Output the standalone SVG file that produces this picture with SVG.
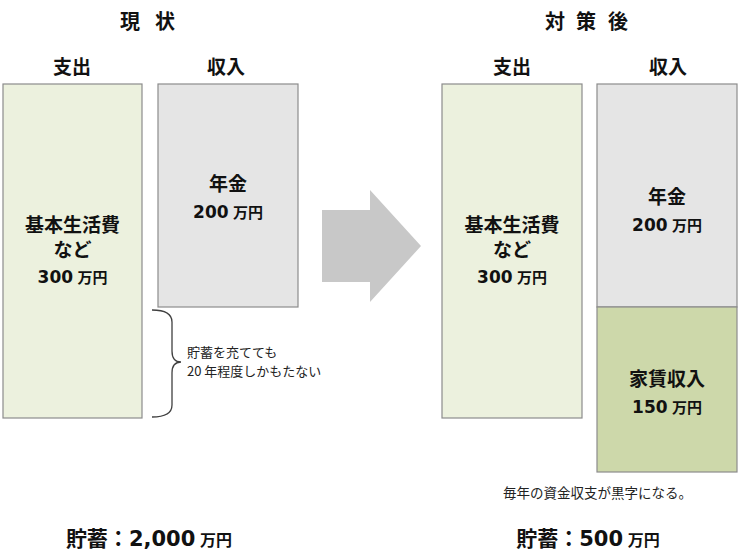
<svg xmlns="http://www.w3.org/2000/svg" width="740" height="560" viewBox="0 0 740 560">
<style>
text{font-family:"Noto Sans CJK JP","DejaVu Sans",sans-serif;fill:#111;text-anchor:middle}
.d{font-family:"DejaVu Sans","Noto Sans CJK JP",sans-serif}
.t{font-size:20px;font-weight:bold}
.h{font-size:19px;font-weight:bold}
.bx{font-size:19px;font-weight:bold}
.bd{font-size:17px}
.u{font-size:15px}
.n{font-size:13px;text-anchor:start;fill:#222}
.exp{fill:#ECF1DE;stroke:#8C8C8C;stroke-width:1.2}
.inc{fill:#E5E5E5;stroke:#8C8C8C;stroke-width:1.2}
.rent{fill:#CDD8AA;stroke:#8C8C8C;stroke-width:1.2}
.sv{font-size:21px;font-weight:bold}
.svd{font-size:21px}
.svu{font-size:16px}
</style>
<rect width="740" height="560" fill="#fff"/>
<g id="titles">
<text class="t" x="130 165" y="29">現状</text>
<text class="t" x="555 586 618" y="29">対策後</text>
<text class="h" x="72" y="74">支出</text>
<text class="h" x="226" y="74">収入</text>
<text class="h" x="512" y="74">支出</text>
<text class="h" x="668" y="74">収入</text>
</g>
<g id="before-expense">
<rect class="exp" x="3" y="84" width="139" height="334"/>
<text class="bx" y="232"><tspan x="72.5">基本生活費</tspan><tspan x="72.5" dy="25">など</tspan><tspan x="72.5" dy="26"><tspan class="d bd">300</tspan> <tspan class="u">万円</tspan></tspan></text>
</g>
<g id="before-income">
<rect class="inc" x="158" y="84" width="140" height="223"/>
<text class="bx" y="191"><tspan x="228">年金</tspan><tspan x="228" dy="27"><tspan class="d bd">200</tspan> <tspan class="u">万円</tspan></tspan></text>
</g>
<g id="brace-note">
<path d="M152,310 Q172,310 172,322 L172,351 Q172,362 181,362 Q172,362 172,373 L172,405 Q172,417 152,417" fill="none" stroke="#404040" stroke-width="1.3"/>
<text class="n" y="357"><tspan x="187">貯蓄を充てても</tspan><tspan x="187" dy="19">20 年程度しかもたない</tspan></text>
</g>
<g id="arrow">
<polygon points="322,210 370,210 370,190 421,246 370,302 370,282 322,282" fill="#C8C8C8"/>
</g>
<g id="after-expense">
<rect class="exp" x="442" y="84" width="140" height="334"/>
<text class="bx" y="232"><tspan x="512">基本生活費</tspan><tspan x="512" dy="25">など</tspan><tspan x="512" dy="26"><tspan class="d bd">300</tspan> <tspan class="u">万円</tspan></tspan></text>
</g>
<g id="after-income-pension">
<rect class="inc" x="597" y="84" width="140" height="223"/>
<text class="bx" y="204"><tspan x="667">年金</tspan><tspan x="667" dy="27"><tspan class="d bd">200</tspan> <tspan class="u">万円</tspan></tspan></text>
</g>
<g id="after-income-rent">
<rect class="rent" x="597" y="307" width="140" height="165"/>
<text class="bx" y="386"><tspan x="667">家賃収入</tspan><tspan x="667" dy="27"><tspan class="d bd">150</tspan> <tspan class="u">万円</tspan></tspan></text>
</g>
<g id="notes">
<text class="n" x="503" y="498" style="font-size:13.5px">毎年の資金収支が黒字になる。</text>
<text class="sv" x="149" y="546">貯蓄：<tspan class="d svd">2,000</tspan> <tspan class="svu">万円</tspan></text>
<text class="sv" x="588" y="546">貯蓄：<tspan class="d svd">500</tspan> <tspan class="svu">万円</tspan></text>
</g>
</svg>
